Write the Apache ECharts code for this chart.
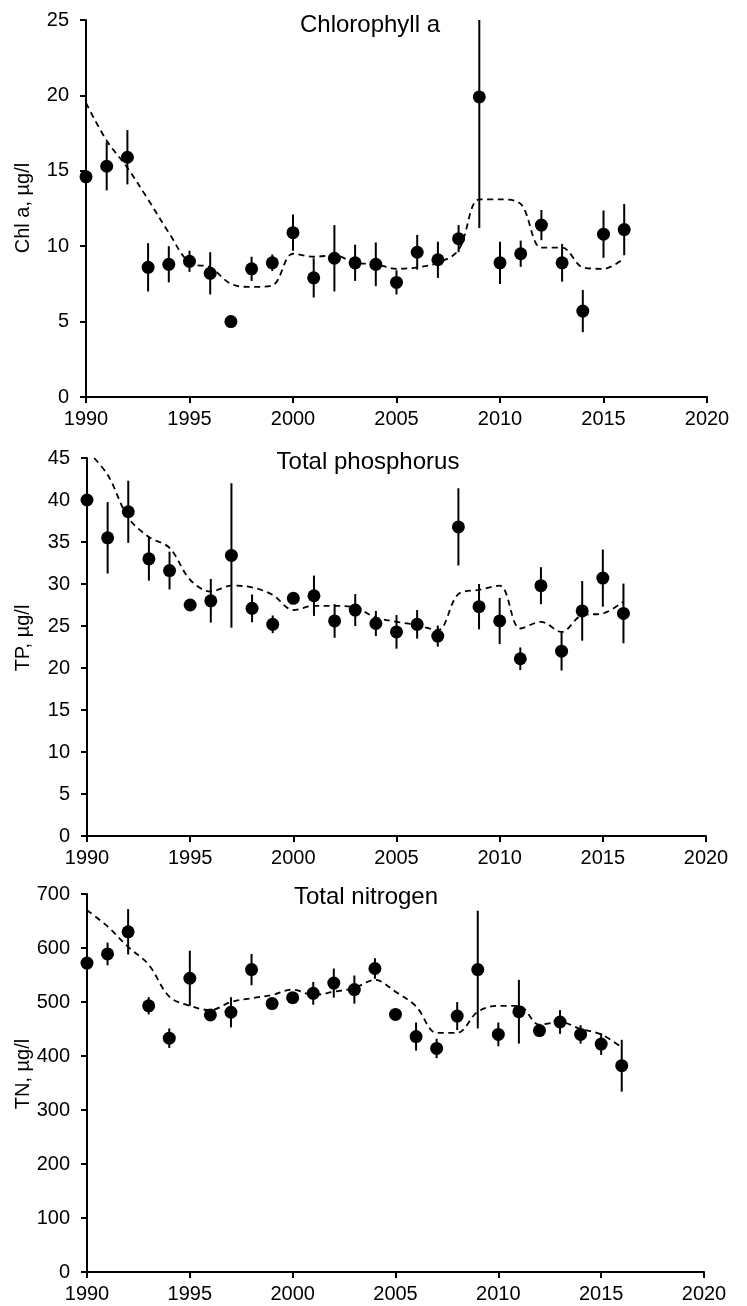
<!DOCTYPE html>
<html>
<head>
<meta charset="utf-8">
<title>Chlorophyll a, total phosphorus and total nitrogen, 1990–2016</title>
<script src="https://cdn.jsdelivr.net/npm/echarts@6/dist/echarts.min.js"></script>
<style>
  html, body { margin: 0; padding: 0; background: #fff; }
  #chart { width: 747px; height: 1306px; }
</style>
</head>
<body>
<div id="chart"></div>
<script>
// Annual means (points), their error half-widths (vertical bars) and the smoothed trend (dashed line)
const years = [1990, 1991, 1992, 1993, 1994, 1995, 1996, 1997, 1998, 1999, 2000, 2001, 2002, 2003,
               2004, 2005, 2006, 2007, 2008, 2009, 2010, 2011, 2012, 2013, 2014, 2015, 2016];

const chlMean  = [14.6, 15.3, 15.9, 8.6, 8.8, 9.0, 8.2, 5.0, 8.5, 8.9, 10.9, 7.9, 9.2, 8.9,
                  8.8, 7.6, 9.6, 9.1, 10.5, 19.9, 8.9, 9.5, 11.4, 8.9, 5.7, 10.8, 11.1];
const chlErr   = [0, 1.6, 1.8, 1.6, 1.2, 0.7, 1.4, 0.2, 0.8, 0.55, 1.2, 1.3, 2.2, 1.2,
                  1.45, 0.8, 1.15, 1.2, 0.9, 8.7, 1.4, 0.87, 1.0, 1.25, 1.4, 1.57, 1.7];
const chlTrend = [19.5, 17.0, 15.2, 13.1, 10.9, 8.9, 8.6, 7.5, 7.3, 7.4, 9.5, 9.3, 9.4, 8.9,
                  8.8, 8.5, 8.6, 8.9, 9.75, 13.1, 13.1, 12.8, 9.9, 9.9, 8.6, 8.5, 9.2];

const tpMean   = [40.0, 35.5, 38.6, 33.0, 31.6, 27.5, 28.0, 33.4, 27.1, 25.2, 28.3, 28.6, 25.6, 26.9,
                  25.3, 24.3, 25.2, 23.8, 36.8, 27.3, 25.6, 21.1, 29.8, 22.0, 26.8, 30.7, 26.5];
const tpErr    = [0, 4.25, 3.7, 2.6, 2.25, 0.4, 2.6, 8.6, 1.65, 1.05, 0.6, 2.4, 2.0, 1.9,
                  1.5, 2.0, 1.7, 1.25, 4.6, 2.7, 2.75, 1.35, 2.2, 2.3, 3.55, 3.4, 3.55];
const tpTrend  = [45.9, 43.0, 37.9, 35.6, 34.3, 30.5, 29.1, 29.8, 29.6, 28.7, 26.9, 27.4, 27.4, 27.2,
                  26.0, 25.5, 25.1, 24.5, 28.8, 29.3, 29.8, 24.7, 25.5, 24.3, 26.3, 26.5, 27.9];

const tnMean   = [572, 589, 630, 493, 433, 544, 476, 481, 560, 497, 508, 516, 535, 523,
                  562, 477, 436, 414, 474, 560, 440, 482, 447, 463, 440, 422, 382];
const tnErr    = [0, 21, 42, 16, 18, 51, 11, 28, 29, 10, 8, 21, 27, 26,
                  19, 0, 26, 18, 26, 109, 22, 59, 6, 22, 17, 20, 48];
const tnTrend  = [670, 640, 602, 569, 510, 493, 485, 500, 507, 513, 523, 513, 519, 526,
                  541, 519, 492, 443, 443, 482, 493, 493, 458, 463, 450, 440, 416];

const xTicks = { min: 1990, max: 2020, interval: 5 };

const panels = [
  { title: 'Chlorophyll a',    yName: 'Chl a, µg/l', mean: chlMean, err: chlErr, trend: chlTrend, yMax: 25,  yStep: 5,
    grid: { left: 86, top: 20,  width: 621, height: 377 }, titleX: 370, titleY: 25,  nameY: 208 },
  { title: 'Total phosphorus', yName: 'TP, µg/l',    mean: tpMean,  err: tpErr,  trend: tpTrend,  yMax: 45,  yStep: 5,
    grid: { left: 87, top: 458, width: 619, height: 378 }, titleX: 368, titleY: 462, nameY: 638 },
  { title: 'Total nitrogen',   yName: 'TN, µg/l',    mean: tnMean,  err: tnErr,  trend: tnTrend,  yMax: 700, yStep: 100,
    grid: { left: 87, top: 894, width: 617, height: 378 }, titleX: 366, titleY: 897, nameY: 1074 }
];

const FONT = '"Liberation Sans", Arial, sans-serif';
const axisLine = { show: true, lineStyle: { color: '#000', width: 2 } };
const axisTick = { show: true, inside: false, length: 6, lineStyle: { color: '#000', width: 2 } };

const grids = [], xAxes = [], yAxes = [], series = [], graphics = [];

panels.forEach((p, i) => {
  grids.push(p.grid);

  xAxes.push({
    type: 'value', gridIndex: i, min: xTicks.min, max: xTicks.max, interval: xTicks.interval,
    axisLine, axisTick, splitLine: { show: false },
    axisLabel: { margin: 12, color: '#000', fontSize: 20, fontFamily: FONT, formatter: v => String(v) }
  });

  yAxes.push({
    type: 'value', gridIndex: i, min: 0, max: p.yMax, interval: p.yStep,
    axisLine, axisTick, splitLine: { show: false },
    axisLabel: { margin: 17, color: '#000', fontSize: 20, fontFamily: FONT }
  });

  // vertical error bars
  series.push({
    type: 'custom', xAxisIndex: i, yAxisIndex: i, clip: true, z: 2,
    data: years.map((y, k) => [y, p.mean[k], p.err[k]]),
    encode: { x: 0, y: 1 },
    renderItem: (params, api) => {
      const e = api.value(2);
      if (!e) return null;
      const x = api.value(0), v = api.value(1);
      const top = api.coord([x, v + e]);
      const bot = api.coord([x, v - e]);
      const cs = params.coordSys;
      return {
        type: 'line',
        shape: { x1: top[0], y1: Math.max(top[1], cs.y), x2: bot[0], y2: Math.min(bot[1], cs.y + cs.height) },
        style: { stroke: '#000', lineWidth: 2 }
      };
    }
  });

  // smoothed trend
  series.push({
    type: 'line', xAxisIndex: i, yAxisIndex: i, z: 3,
    data: years.map((y, k) => [y, p.trend[k]]),
    smooth: 0.35, showSymbol: false, symbol: 'none',
    lineStyle: { color: '#000', width: 1.8, type: [6, 4.5] }
  });

  // annual means
  series.push({
    type: 'scatter', xAxisIndex: i, yAxisIndex: i, z: 4,
    data: years.map((y, k) => [y, p.mean[k]]),
    symbol: 'circle', symbolSize: 13,
    itemStyle: { color: '#000', opacity: 1 }
  });

  graphics.push({
    type: 'text', x: p.titleX, y: p.titleY,
    style: { text: p.title, font: '24px ' + FONT, fill: '#000', textAlign: 'center', textVerticalAlign: 'middle' }
  });
  graphics.push({
    type: 'text', x: 23, y: p.nameY, rotation: Math.PI / 2,
    style: { text: p.yName, font: '20px ' + FONT, fill: '#000', textAlign: 'center', textVerticalAlign: 'middle' }
  });
});

const chart = echarts.init(document.getElementById('chart'), null, { renderer: 'canvas' });
chart.setOption({
  animation: false,
  backgroundColor: '#fff',
  grid: grids,
  xAxis: xAxes,
  yAxis: yAxes,
  series,
  graphic: graphics
});
</script>
</body>
</html>
